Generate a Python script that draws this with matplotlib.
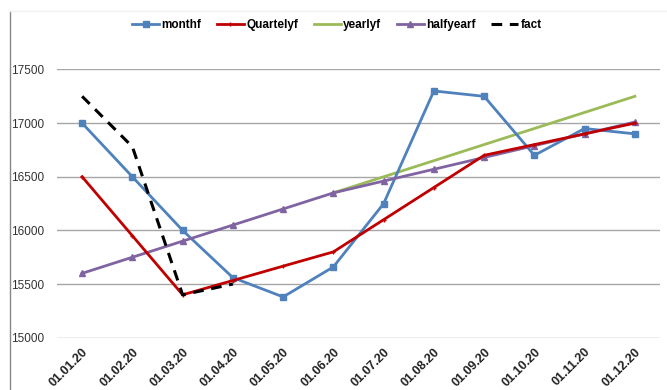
import numpy as np
import matplotlib
matplotlib.use("Agg")
import matplotlib.pyplot as plt
from matplotlib.lines import Line2D

plt.rcParams['font.family'] = ['Liberation Sans', 'DejaVu Sans']

dates = ["01.01.20", "01.02.20", "01.03.20", "01.04.20", "01.05.20", "01.06.20",
         "01.07.20", "01.08.20", "01.09.20", "01.10.20", "01.11.20", "01.12.20"]
nan = np.nan
monthf = [17000, 16500, 16000, 15560, 15380, 15660, 16250, 17300, 17250, 16700, 16950, 16900]
quartelyf = [16500, 15950, 15400, 15533, 15667, 15800, 16100, 16400, 16700, 16800, 16900, 17000]
yearlyf = [nan, nan, nan, nan, nan, 16350, 16500, 16650, 16800, 16950, 17100, 17250]
halfyearf = [15600, 15750, 15900, 16050, 16200, 16350, 16460, 16570, 16680, 16790, 16900, 17010]
fact = [17250, 16780, 15400, 15500, nan, nan, nan, nan, nan, nan, nan, nan]
yticks = [15000, 15500, 16000, 16500, 17000, 17500]

fig = plt.figure(figsize=(6.67, 3.9), dpi=100)

# chart frame edges
fig.add_artist(Line2D([9.5 / 667, 9.5 / 667], [0, 1 - 11 / 390], color='#888888', lw=1.0))
fig.add_artist(Line2D([9.5 / 667, 1], [1 - 11 / 390, 1 - 11 / 390], color='#f0f0f0', lw=1.0))

ax = fig.add_axes([57 / 667, 1 - 337.7 / 390, 603 / 667, (337.7 - 69.5) / 390])
x = np.arange(len(dates))

ax.plot(x, monthf, color='#4F81BD', lw=2, marker='s', ms=4.5, label='monthf', zorder=3)
ax.plot(x, quartelyf, color='#C00000', lw=2, marker='+', ms=3.5, mew=1.0, label='Quartelyf', zorder=4)
ax.plot(x, yearlyf, color='#9BBB59', lw=2, label='yearlyf', zorder=2)
ax.plot(x, halfyearf, color='#8064A2', lw=2, marker='^', ms=5, label='halfyearf', zorder=3)
ax.plot(x, fact, color='black', lw=2.2, ls=(0, (3.5, 2.5)), label='fact', zorder=5)

ax.set_xlim(-0.5, len(dates) - 0.5)
ax.set_ylim(15000, 17500)
ax.set_yticks(yticks)
ax.set_yticklabels([str(v) for v in yticks], fontsize=8.5, color='#333333')
ax.set_xticks(x)
ax.set_xticklabels(dates, rotation=45, ha='right', rotation_mode='anchor',
                   fontsize=9, fontweight='bold', color='#222222')
ax.tick_params(axis='both', length=0)
ax.tick_params(axis='y', pad=9)
ax.tick_params(axis='x', pad=6)
ax.grid(axis='y', color='#a6a6a6', lw=1.0)
ax.set_axisbelow(True)
for s in ax.spines.values():
    s.set_visible(False)

leg = fig.legend(loc='center', bbox_to_anchor=(0.505, 1 - 25 / 390), ncol=5, frameon=False,
                 prop={'weight': 'bold', 'size': 8.5}, handlelength=2.3, columnspacing=1.3,
                 handletextpad=0.2)

fig.savefig('out.png', dpi=100, facecolor='white')
